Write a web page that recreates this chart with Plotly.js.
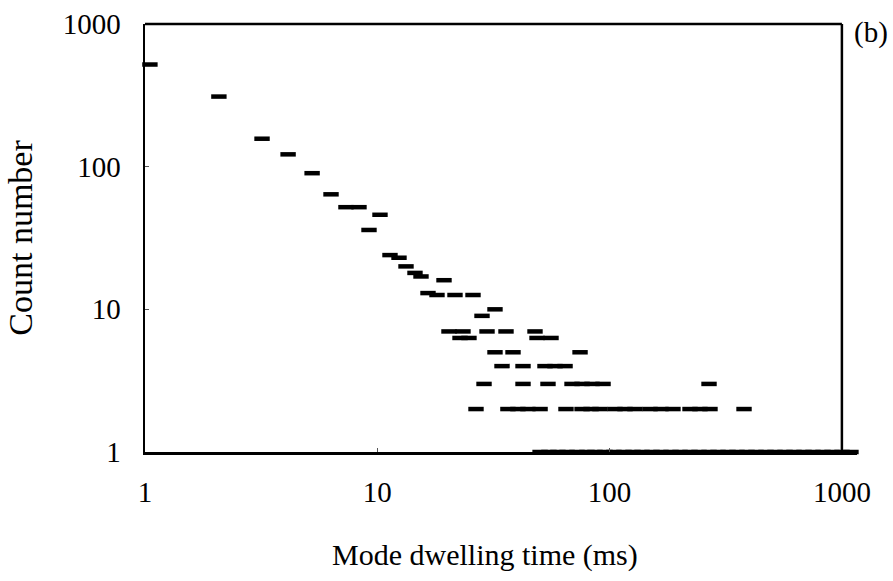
<!DOCTYPE html>
<html>
<head>
<meta charset="utf-8">
<script src="https://cdn.plot.ly/plotly-3.0.1.min.js"></script>
<style>
  html, body { margin: 0; padding: 0; background: #fff; }
  #chart { width: 893px; height: 581px; }
</style>
</head>
<body>
<div id="chart"></div>
<script>
// Mode dwelling time (ms) and count number
const dwellTime = [
  1.05, 2.08, 3.19, 4.13, 5.24, 6.32, 7.33, 8.34, 9.21, 10.27,
  11.34, 12.40, 13.29, 14.53, 15.42, 19.37, 16.53, 18.07, 21.60, 25.82,
  28.23, 32.11,
  20.35, 23.38, 29.67, 35.81, 47.74,
  22.70, 24.81, 48.70, 55.95,
  32.11, 38.39, 74.6,
  34.42, 42.39, 52.7, 58.2, 64.3,
  28.80, 42.39, 54.3, 68.9, 76.1, 84.0, 93.7, 267.9,
  26.6, 36.5, 40.3, 44.5, 50.2, 64.9, 76.1, 83.2, 90.9, 105.5, 116.5, 128.6,
  149.3, 166.4, 187.4, 221.9, 244.9, 270.5, 379
];
const countNumber = [
  520, 310, 157, 122, 90, 64, 52, 52, 36, 46,
  24, 23, 20, 18, 17, 16, 13, 12.6, 12.6, 12.6,
  9, 10,
  7, 7, 7, 7, 7,
  6.3, 6.3, 6.3, 6.3,
  5, 5, 5,
  4, 4, 4, 4, 4,
  3, 3, 3, 3, 3, 3, 3, 3,
  2, 2, 2, 2, 2, 2, 2, 2, 2, 2, 2, 2,
  2, 2, 2, 2, 2, 2, 2
];
// Long tail of single events (count = 1)
const tailTime = [
  50.2, 54.8, 59.9, 65.6, 72.4, 79.9, 86.5, 95.5, 104.4, 115.3,
  126.1, 137.9, 152.2, 166.4, 183.8, 201.0, 221.9, 242.6, 267.9, 292.9,
  323.4, 353.5, 390.4, 426.8, 471.3, 515.2, 569.0, 622.0, 686.9, 750.9,
  829.3, 906.6, 1000.9, 1094
];
const tailCount = tailTime.map(() => 1);

const tickVals = [1, 10, 100, 1000];
const tickText = ['1', '10', '100', '1000'];
const xTitle = 'Mode dwelling time (ms)';
const yTitle = 'Count number';

const FONT = "'Liberation Serif', 'Times New Roman', serif";
const markerStyle = {
  symbol: 'line-ew',
  size: 11,
  color: '#000',
  line: { color: '#000', width: 4.5 }
};

const traces = [
  {
    x: dwellTime, y: countNumber, type: 'scatter', mode: 'markers',
    marker: markerStyle, cliponaxis: false, showlegend: false, hoverinfo: 'x+y'
  },
  {
    x: tailTime, y: tailCount, type: 'scatter', mode: 'markers',
    marker: markerStyle, cliponaxis: false, showlegend: false, hoverinfo: 'x+y'
  }
];

const axisCommon = {
  type: 'log',
  showgrid: false,
  zeroline: false,
  showline: true,
  linecolor: '#000',
  linewidth: 2.5,
  ticks: 'inside',
  ticklen: 4,
  tickwidth: 1,
  tickcolor: '#555',
  tickvals: tickVals,
  ticktext: tickText,
  tickfont: { family: FONT, size: 29, color: '#000' },
  automargin: false
};

const layout = {
  width: 893,
  height: 581,
  margin: { l: 145, r: 36, t: 24, b: 129 },
  paper_bgcolor: '#fff',
  plot_bgcolor: '#fff',
  font: { family: FONT, color: '#000' },
  xaxis: Object.assign({}, axisCommon, {
    range: [0, 3.065],
    mirror: false,
    ticklabelstandoff: 13
  }),
  yaxis: Object.assign({}, axisCommon, {
    range: [0, 3],
    mirror: false,
    ticklabelstandoff: 16,
    title: { text: yTitle, font: { family: FONT, size: 34, color: '#000' }, standoff: 20 }
  }),
  shapes: [
    // top and right frame lines, ending at x = 1000
    { type: 'line', xref: 'x', yref: 'paper', x0: 1, x1: 1000, y0: 1, y1: 1,
      line: { color: '#000', width: 2.5 } },
    { type: 'line', xref: 'x', yref: 'paper', x0: 1000, x1: 1000, y0: 0, y1: 1,
      line: { color: '#000', width: 2.5 } }
  ],
  annotations: [
    {
      text: xTitle, xref: 'paper', yref: 'paper', x: 0.4775, y: -0.2407,
      xanchor: 'center', yanchor: 'middle',
      showarrow: false, font: { family: FONT, size: 30, color: '#000' }
    },
    {
      text: '(b)', xref: 'x', yref: 'paper', x: 3, y: 1,
      xanchor: 'left', yanchor: 'top', xshift: 10, yshift: 10,
      showarrow: false, font: { family: FONT, size: 29, color: '#000' }
    }
  ]
};

Plotly.newPlot('chart', traces, layout, { displayModeBar: false, staticPlot: true });
</script>
</body>
</html>
